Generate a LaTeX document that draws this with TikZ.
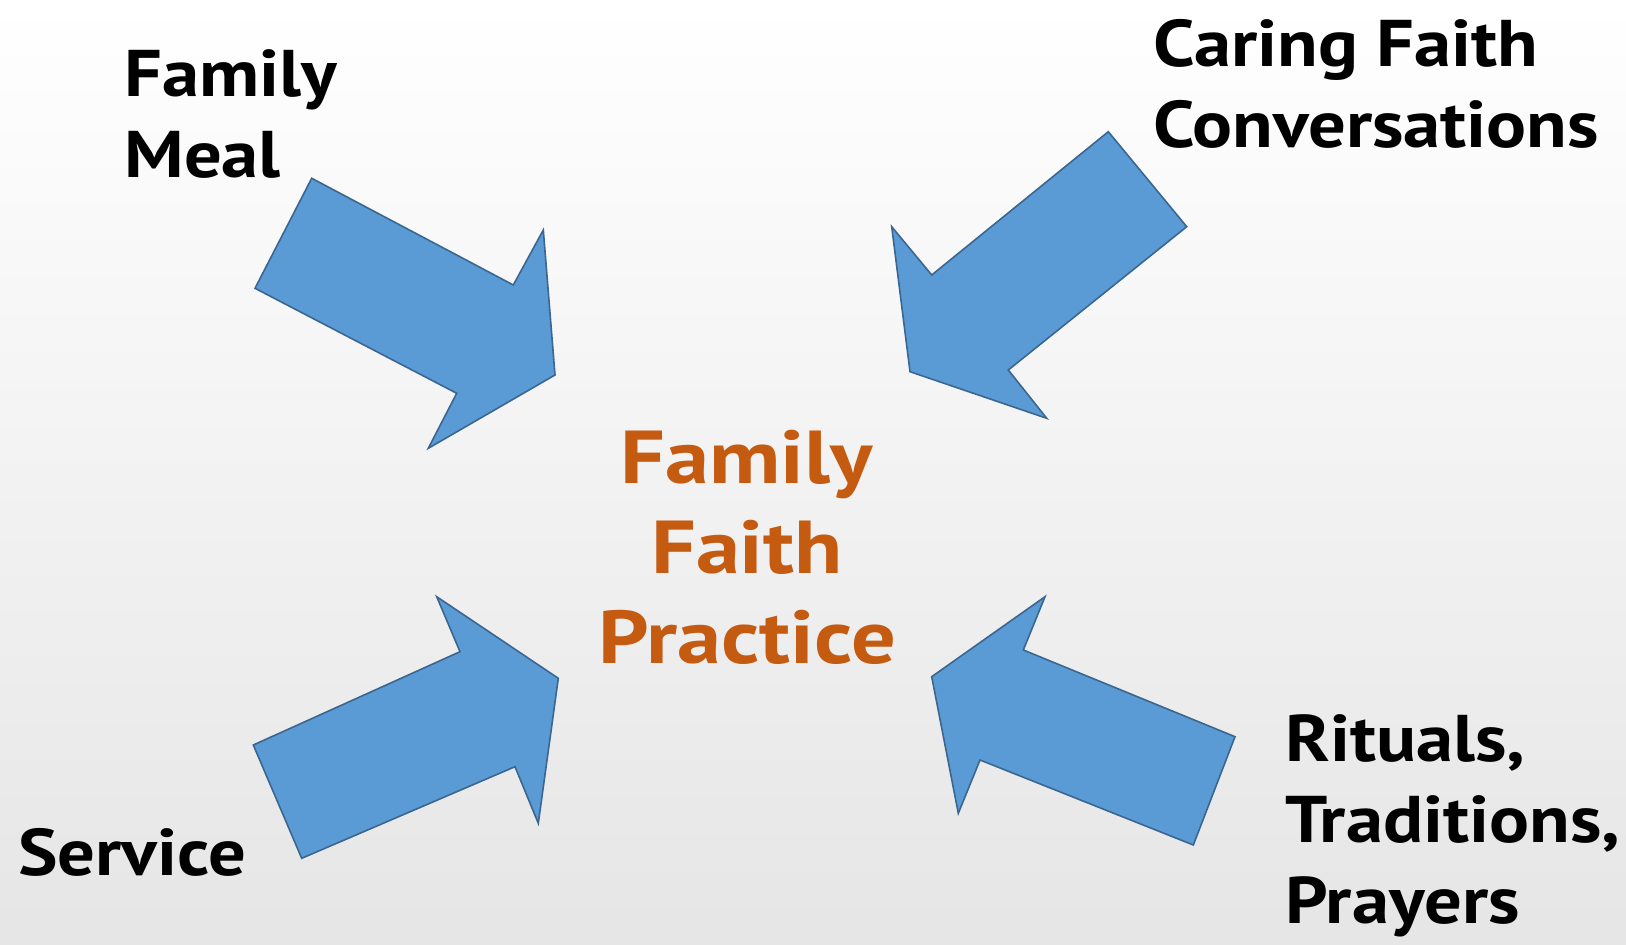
\documentclass[tikz,border=0pt]{standalone}
\usepackage{fontspec}
\setmainfont[FakeStretch=1.13]{PT Sans}
\newfontfamily\corefont[FakeStretch=1.18]{PT Sans}
\definecolor{arrowfill}{HTML}{5B9BD5}
\definecolor{arrowline}{HTML}{3A6690}
\definecolor{centertxt}{HTML}{C55A11}
\begin{document}
\begin{tikzpicture}[x=0.5pt,y=-0.5pt,
  blockarrow/.style={fill=arrowfill,draw=arrowline,line width=0.8pt,line join=miter},
  label/.style={inner sep=0pt,anchor=base west,align=left,text=black,
    font=\bfseries\fontsize{33}{40.5}\selectfont},
  centre/.style={inner sep=0pt,anchor=base,align=center,text=centertxt,
    font=\corefont\bfseries\fontsize{37.5}{45}\selectfont}]
\useasboundingbox (0,0) rectangle (1626,945);
\shade[top color=white,middle color=white,bottom color=black!10] (0,0) rectangle (1626,945);
% block arrows
\draw[blockarrow] (311.7,178.3) -- (513.3,285) -- (543.3,230) -- (555,375) -- (428.3,448.3) -- (456.7,393.3) -- (255,288.3) -- cycle;
\draw[blockarrow] (1108.3,131.7) -- (1186.7,226.7) -- (1008.3,370) -- (1046.7,418.3) -- (910,371.7) -- (891.7,226.7) -- (931.7,275) -- cycle;
\draw[blockarrow] (436.7,596.7) -- (558.3,678.3) -- (538.3,823.3) -- (515,766.7) -- (301.7,858.3) -- (253.3,745) -- (460,651.7) -- cycle;
\draw[blockarrow] (1045,596.7) -- (1023.3,650) -- (1235,736.7) -- (1193.3,845) -- (980,760) -- (958.3,813.3) -- (931.7,676.7) -- cycle;
% texts (anchored at the baseline of their last line)
\node[label] (meal) at (124,178) {Family\\Meal};
\node[label] (conv) at (1153,148) {Caring Faith\\Conversations};
\node[label] (rit) at (1285,923) {Rituals,\\Traditions,\\Prayers};
\node[label] (serv) at (18,875) {Service};
\node[centre] (core) at (747,663) {Family\\Faith\\Practice};
\end{tikzpicture}
\end{document}
